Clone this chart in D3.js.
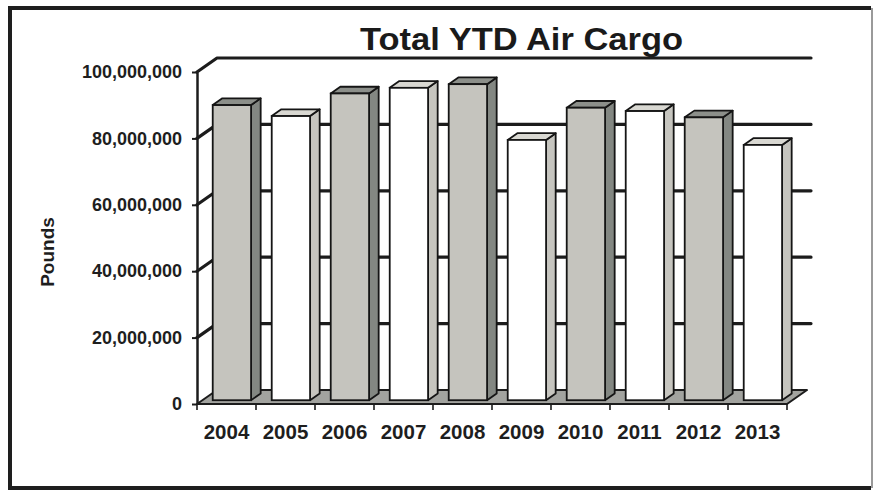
<!DOCTYPE html>
<html>
<head>
<meta charset="utf-8">
<script src="https://cdn.jsdelivr.net/npm/d3@7"></script>
<style>
  body { margin: 0; background: #fff; }
  svg { display: block; }
</style>
</head>
<body>
<svg id="chart"></svg>
<script>
// values (pounds, year to date)
var years = ["2004", "2005", "2006", "2007", "2008", "2009", "2010", "2011", "2012", "2013"];
var pounds = [88900000, 85600000, 92400000, 94100000, 95200000, 78400000, 88100000, 87100000, 85200000, 76900000];
var shaded = [true, false, true, false, true, false, true, false, true, false];
var yTicks = [0, 20000000, 40000000, 60000000, 80000000, 100000000];

var svgWidth = 875, svgHeight = 491;
var svg = d3.select("#chart").attr("width", svgWidth).attr("height", svgHeight);

// outer frame of the scanned page
svg.append("path")
  .attr("d", "M871,8 L10,8 L10,488 L871,488")
  .attr("fill", "none").attr("stroke", "#1e1e1e").attr("stroke-width", 4);
svg.append("line").attr("x1", 872).attr("x2", 872).attr("y1", 8).attr("y2", 488)
  .attr("stroke", "#9a9a9a").attr("stroke-width", 2);

// 3d depth of the wall / floor
var dx = 20, dy = -14;
var f0 = 0.27, f1 = 0.75;   // bar front and back position inside the depth

var x = d3.scaleBand().domain(years).range([197, 787]).paddingInner(0).paddingOuter(0);
var y = d3.scaleLinear().domain([0, 100000000]).range([404, 72]);

var g = svg.append("g");

// back wall gridlines + left wall diagonals
yTicks.slice(1).forEach(function(t) {
  g.append("path")
    .attr("d", "M" + x.range()[0] + "," + y(t) + " L" + (x.range()[0] + dx) + "," + (y(t) + dy) +
      " L" + (x.range()[1] + dx + 4) + "," + (y(t) + dy))
    .attr("fill", "none").attr("stroke", "#1c1c1c").attr("stroke-width", 3.2)
    .attr("stroke-linecap", "round").attr("stroke-linejoin", "round");
});

// floor
var x0 = x.range()[0], x1 = x.range()[1], y0 = y(0);
g.append("path")
  .attr("d", "M" + x0 + "," + y0 + " L" + x1 + "," + y0 + " L" + (x1 + dx) + "," + (y0 + dy) +
    " L" + (x0 + dx) + "," + (y0 + dy) + "Z")
  .attr("fill", "#a2a39f").attr("stroke", "#1c1c1c").attr("stroke-width", 2).attr("stroke-linejoin", "round");

// bars
var step = x.step();
var w = step * 0.65;
var bd = (f1 - f0) * dx, bdy = (f1 - f0) * dy;

var bars = g.selectAll(".bar").data(years).enter().append("g").attr("class", "bar");

function barGeom(d, i) {
  var xl = x(d) + (step - w) / 2 + f0 * dx;
  var yb = y(0) + f0 * dy;
  var yt = y(pounds[i]) + f0 * dy;
  return { xl: xl, xr: xl + w, yb: yb, yt: yt };
}

bars.append("path")
  .attr("d", function(d, i) {
    var b = barGeom(d, i);
    return "M" + b.xr + "," + b.yb + " L" + (b.xr + bd) + "," + (b.yb + bdy) +
      " L" + (b.xr + bd) + "," + (b.yt + bdy) + " L" + b.xr + "," + b.yt + "Z";
  })
  .attr("fill", function(d, i) { return shaded[i] ? "#838782" : "#c6c5bf"; })
  .attr("stroke", "#151515").attr("stroke-width", 1.8).attr("stroke-linejoin", "round");

bars.append("path")
  .attr("d", function(d, i) {
    var b = barGeom(d, i);
    return "M" + b.xl + "," + b.yt + " L" + (b.xl + bd) + "," + (b.yt + bdy) +
      " L" + (b.xr + bd) + "," + (b.yt + bdy) + " L" + b.xr + "," + b.yt + "Z";
  })
  .attr("fill", function(d, i) { return shaded[i] ? "#8c8f8a" : "#d9d8d2"; })
  .attr("stroke", "#151515").attr("stroke-width", 1.8).attr("stroke-linejoin", "round");

bars.append("rect")
  .attr("x", function(d, i) { return barGeom(d, i).xl; })
  .attr("y", function(d, i) { return barGeom(d, i).yt; })
  .attr("width", w)
  .attr("height", function(d, i) { var b = barGeom(d, i); return b.yb - b.yt; })
  .attr("fill", function(d, i) { return shaded[i] ? "#c5c4be" : "#ffffff"; })
  .attr("stroke", "#151515").attr("stroke-width", 1.8);

// y axis on the front edge
var yAxis = svg.append("g").attr("transform", "translate(" + x0 + ",0)")
  .call(d3.axisLeft(y).tickValues(yTicks).tickFormat(d3.format(",")).tickSize(5).tickSizeOuter(0).tickPadding(10));
yAxis.select(".domain").attr("stroke", "#1c1c1c").attr("stroke-width", 2.5);
yAxis.selectAll(".tick line").attr("stroke", "#1c1c1c").attr("stroke-width", 2);
yAxis.selectAll(".tick text")
  .attr("font-family", "'Liberation Sans', Arial, sans-serif").attr("font-weight", "bold")
  .attr("font-size", 18).attr("fill", "#1e1e1e");

// category ticks at the band edges of the floor front
svg.selectAll(".xtick").data(years.concat(["end"])).enter().append("line")
  .attr("class", "xtick")
  .attr("x1", function(d, i) { return x0 + i * step; })
  .attr("x2", function(d, i) { return x0 + i * step; })
  .attr("y1", y0).attr("y2", y0 + 6)
  .attr("stroke", "#1c1c1c").attr("stroke-width", 1.6);

var xAxis = svg.append("g").attr("transform", "translate(0," + y0 + ")")
  .call(d3.axisBottom(x).tickSize(0).tickPadding(20));
xAxis.select(".domain").remove();
xAxis.selectAll(".tick text")
  .attr("font-family", "'Liberation Sans', Arial, sans-serif").attr("font-weight", "bold")
  .attr("font-size", 20.5).attr("fill", "#1e1e1e");

// axis title
svg.append("text")
  .attr("transform", "translate(54,252) rotate(-90)")
  .attr("text-anchor", "middle")
  .attr("font-family", "'Liberation Sans', Arial, sans-serif").attr("font-weight", "bold")
  .attr("font-size", 19).attr("fill", "#1e1e1e")
  .text("Pounds");

// chart title
svg.append("text")
  .attr("x", 360).attr("y", 50)
  .attr("textLength", 323).attr("lengthAdjust", "spacingAndGlyphs")
  .attr("font-family", "'Liberation Sans', Arial, sans-serif").attr("font-weight", "bold")
  .attr("font-size", 32).attr("fill", "#1a1a1a")
  .text("Total YTD Air Cargo");
</script>
</body>
</html>
